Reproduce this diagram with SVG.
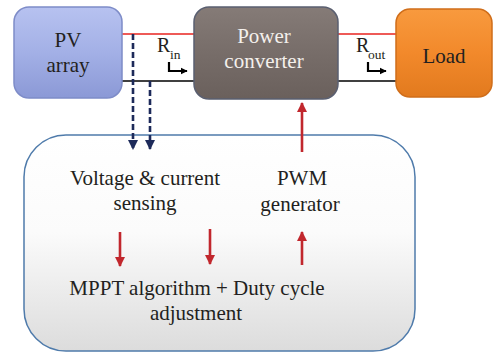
<svg xmlns="http://www.w3.org/2000/svg" width="497" height="353" viewBox="0 0 497 353">
<style>
text{font-family:"Liberation Serif","DejaVu Serif",serif;font-size:21px;fill:#231f20;text-anchor:middle}
.w{fill:#f4f0ec}
.r{font-size:20px;text-anchor:start}
.sub{font-size:13.5px;text-anchor:start}
.dash{stroke:#1d2a5a;stroke-width:2.6;stroke-dasharray:6,3;fill:none}
.red{stroke:#c1272d;stroke-width:2.6;fill:none}
</style>
<defs>
<linearGradient id="gpv" x1="0" y1="0" x2="0" y2="1"><stop offset="0" stop-color="#b7c2f0"/><stop offset="0.5" stop-color="#a3b0e6"/><stop offset="1" stop-color="#8b99d6"/></linearGradient>
<linearGradient id="gpc" x1="0" y1="0" x2="0" y2="1"><stop offset="0" stop-color="#857b77"/><stop offset="0.5" stop-color="#776d69"/><stop offset="1" stop-color="#6a605c"/></linearGradient>
<linearGradient id="gld" x1="0" y1="0" x2="0" y2="1"><stop offset="0" stop-color="#f89a3e"/><stop offset="0.5" stop-color="#f2892b"/><stop offset="1" stop-color="#e27a1e"/></linearGradient>
<linearGradient id="gbig" x1="0" y1="0" x2="0" y2="1"><stop offset="0" stop-color="#ffffff"/><stop offset="0.45" stop-color="#fbfbfb"/><stop offset="1" stop-color="#dcdcdc"/></linearGradient>
<marker id="an" viewBox="0 0 10 10" refX="9" refY="5" markerWidth="4" markerHeight="4" orient="auto"><path d="M0,0L10,5L0,10z" fill="#1d2a5a"/></marker>
<marker id="ar" viewBox="0 0 10 10" refX="9" refY="5" markerWidth="4" markerHeight="4" orient="auto"><path d="M0,0L10,5L0,10z" fill="#c1272d"/></marker>
<marker id="ab" viewBox="0 0 10 10" refX="9" refY="5" markerWidth="3.2" markerHeight="3.2" orient="auto"><path d="M0,0L10,5L0,10z" fill="#000"/></marker>
</defs>
<g id="controller">
<rect x="24" y="135" width="391" height="216" rx="42" fill="url(#gbig)" stroke="#4f7bab" stroke-width="1.5"/>
<text x="145" y="185">Voltage &amp; current</text>
<text x="145" y="210">sensing</text>
<text x="302" y="185">PWM</text>
<text x="300" y="211">generator</text>
<text x="197" y="295">MPPT algorithm + Duty cycle</text>
<text x="196" y="320">adjustment</text>
</g>
<g id="connectors">
<line x1="122" y1="34" x2="195" y2="34" stroke="#e8231f" stroke-width="1.3"/>
<line x1="122" y1="81" x2="196" y2="81" stroke="#000" stroke-width="1.3"/>
<line x1="333" y1="34" x2="397" y2="34" stroke="#e8231f" stroke-width="1.3"/>
<line x1="333" y1="81" x2="397" y2="81" stroke="#000" stroke-width="1.3"/>
<path d="M133,34V149" class="dash" marker-end="url(#an)"/>
<path d="M150,81V149" class="dash" marker-end="url(#an)"/>
<path d="M302,152V103" class="red" marker-end="url(#ar)"/>
<path d="M120,232V266" class="red" marker-end="url(#ar)"/>
<path d="M210,229V264" class="red" marker-end="url(#ar)"/>
<path d="M302,265V232" class="red" marker-end="url(#ar)"/>
<path d="M169,62V71H187" stroke="#000" stroke-width="2.2" fill="none" marker-end="url(#ab)"/>
<path d="M368,62V71H386" stroke="#000" stroke-width="2.2" fill="none" marker-end="url(#ab)"/>
<text x="157" y="52" class="r">R</text>
<text x="170" y="59" class="sub">in</text>
<text x="356" y="52" class="r">R</text>
<text x="368" y="59" class="sub">out</text>
</g>
<g id="pv">
<rect x="14" y="7" width="108" height="91" rx="15" fill="url(#gpv)" stroke="#7e8cc8" stroke-width="1.5"/>
<text x="68" y="47">PV</text>
<text x="68" y="72">array</text>
</g>
<g id="converter">
<rect x="194" y="7" width="144" height="92" rx="15" fill="url(#gpc)" stroke="#5a5f70" stroke-width="1.5"/>
<text x="264" y="43" class="w">Power</text>
<text x="264" y="68" class="w">converter</text>
</g>
<g id="load">
<rect x="396" y="9" width="96" height="88" rx="14" fill="url(#gld)" stroke="#d06e1a" stroke-width="1.5"/>
<text x="444" y="63">Load</text>
</g>
</svg>
